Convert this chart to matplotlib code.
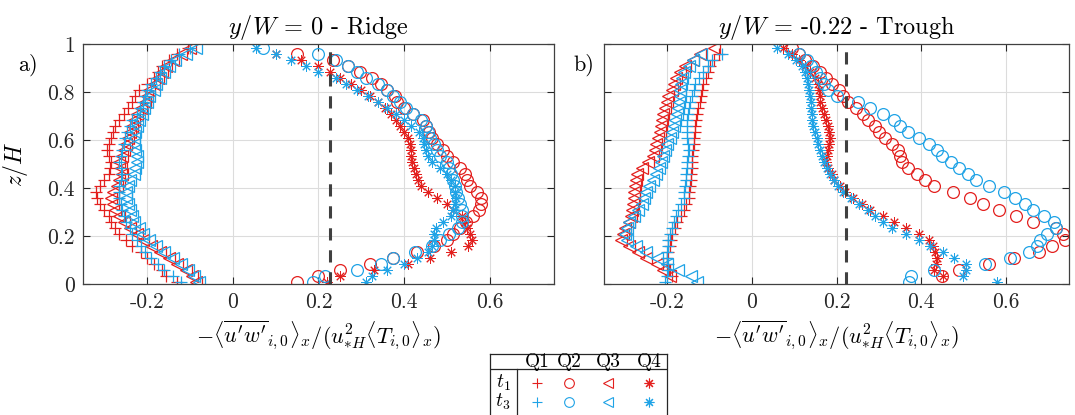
import numpy as np
import matplotlib
matplotlib.use("Agg")
import matplotlib.pyplot as plt

nan = np.nan
plt.rcParams['font.family'] = ['cmr10', 'DejaVu Serif']
plt.rcParams['mathtext.fontset'] = 'cm'
plt.rcParams['axes.unicode_minus'] = False
plt.rcParams['axes.formatter.use_mathtext'] = True

# measurement heights z/H (shared by all profiles)
z = [0.01, 0.035, 0.06, 0.085, 0.11, 0.135, 0.16, 0.185, 0.21, 0.235,
     0.26, 0.285, 0.31, 0.335, 0.36, 0.385, 0.41, 0.435, 0.46, 0.485,
     0.51, 0.535, 0.56, 0.585, 0.61, 0.635, 0.66, 0.685, 0.71, 0.735,
     0.76, 0.785, 0.81, 0.835, 0.86, 0.885, 0.91, 0.935, 0.96, 0.985]

# ---------------- panel a) y/W = 0 (Ridge) ----------------
a_q1_t1 = [-0.13, -0.155, -0.165, -0.185, -0.2, -0.215, -0.235, -0.25, -0.265, -0.275,
           -0.285, -0.29, -0.3, -0.31, -0.318, -0.32, -0.31, -0.3, -0.29, -0.287,
           -0.285, -0.29, -0.293, -0.29, -0.285, -0.28, -0.275, -0.265, -0.255, -0.245,
           -0.235, -0.228, -0.22, -0.2, -0.185, -0.175, -0.165, -0.15, -0.13, -0.105]
a_q1_t3 = [-0.12, -0.14, -0.16, -0.175, -0.19, -0.205, -0.215, -0.225, -0.235, -0.24,
           -0.25, -0.255, -0.26, -0.262, -0.265, -0.265, -0.265, -0.262, -0.26, -0.262,
           -0.265, -0.262, -0.258, -0.255, -0.252, -0.248, -0.24, -0.235, -0.225, -0.218,
           -0.21, -0.205, -0.2, -0.19, -0.18, -0.17, -0.16, -0.145, -0.125, -0.1]
a_q3_t1 = [-0.085, -0.095, -0.11, -0.13, -0.15, -0.17, -0.19, -0.21, -0.225, -0.24,
           -0.255, -0.265, -0.275, -0.28, -0.285, -0.28, -0.27, -0.265, -0.26, -0.262,
           -0.265, -0.26, -0.255, -0.25, -0.245, -0.24, -0.235, -0.23, -0.225, -0.215,
           -0.205, -0.2, -0.195, -0.185, -0.175, -0.165, -0.155, -0.14, -0.12, -0.1]
a_q3_t3 = [-0.08, -0.09, -0.105, -0.12, -0.14, -0.16, -0.18, -0.195, -0.21, -0.22,
           -0.23, -0.235, -0.24, -0.245, -0.25, -0.25, -0.245, -0.24, -0.232, -0.228,
           -0.225, -0.225, -0.228, -0.23, -0.23, -0.228, -0.225, -0.22, -0.212, -0.207,
           -0.2, -0.195, -0.185, -0.18, -0.17, -0.16, -0.15, -0.135, -0.11, -0.085]
a_q2_t1 = [0.15, 0.2, 0.25, 0.32, 0.375, 0.43, 0.47, 0.5, 0.515, 0.53,
           0.545, 0.56, 0.575, 0.58, 0.58, 0.57, 0.555, 0.548, 0.543, 0.53,
           0.515, 0.5, 0.49, 0.478, 0.465, 0.458, 0.45, 0.445, 0.42, 0.4,
           0.383, 0.378, 0.36, 0.345, 0.324, 0.297, 0.27, 0.235, 0.15, nan]
a_q2_t3 = [0.188, 0.215, 0.29, 0.345, 0.375, 0.425, 0.465, 0.485, 0.505, 0.525,
           0.535, 0.535, 0.535, 0.53, 0.525, 0.522, 0.518, 0.515, 0.51, 0.505,
           0.5, 0.485, 0.478, 0.47, 0.46, 0.455, 0.45, 0.44, 0.42, 0.405,
           0.39, 0.375, 0.36, 0.34, 0.31, 0.29, 0.27, 0.24, 0.2, 0.07]
a_q4_t1 = [0.22, 0.25, 0.33, 0.41, 0.46, 0.51, 0.55, 0.558, 0.555, 0.548,
           0.543, 0.535, 0.515, 0.5, 0.478, 0.455, 0.44, 0.432, 0.428, 0.422,
           0.418, 0.417, 0.415, 0.413, 0.41, 0.4, 0.39, 0.38, 0.37, 0.355,
           0.34, 0.32, 0.3, 0.275, 0.25, 0.228, 0.2, 0.16, 0.1, nan]
a_q4_t3 = [0.31, 0.325, 0.36, 0.4, 0.43, 0.455, 0.465, 0.47, 0.47, 0.475,
           0.49, 0.51, 0.515, 0.52, 0.522, 0.52, 0.518, 0.51, 0.5, 0.485,
           0.465, 0.455, 0.45, 0.447, 0.443, 0.435, 0.415, 0.4, 0.38, 0.36,
           0.34, 0.315, 0.29, 0.265, 0.24, 0.2, 0.17, 0.135, 0.1, 0.055]

# ---------------- panel b) y/W = -0.22 (Trough) ----------------
b_q1_t1 = [nan, -0.19, -0.195, -0.2, -0.2, -0.198, -0.195, -0.192, -0.19, -0.183,
           -0.178, -0.168, -0.16, -0.155, -0.15, -0.148, -0.146, -0.145, -0.144, -0.143,
           -0.142, -0.141, -0.14, -0.138, -0.137, -0.135, -0.134, -0.132, -0.131, -0.128,
           -0.124, -0.12, -0.118, -0.115, -0.11, -0.105, -0.1, -0.09, -0.077, nan]
b_q1_t3 = [-0.205, -0.2, -0.198, -0.198, -0.2, -0.2, -0.199, -0.198, -0.195, -0.19,
           -0.185, -0.18, -0.175, -0.168, -0.162, -0.16, -0.158, -0.157, -0.155, -0.154,
           -0.153, -0.152, -0.15, -0.152, -0.154, -0.154, -0.154, -0.154, -0.152, -0.15,
           -0.146, -0.142, -0.138, -0.135, -0.125, -0.115, -0.105, -0.095, -0.07, nan]
b_q3_t1 = [nan, -0.194, -0.21, -0.225, -0.25, -0.27, -0.29, -0.31, -0.305, -0.3,
           -0.29, -0.286, -0.284, -0.282, -0.28, -0.278, -0.277, -0.275, -0.273, -0.26,
           -0.245, -0.235, -0.23, -0.226, -0.222, -0.218, -0.215, -0.212, -0.21, -0.205,
           -0.202, -0.198, -0.19, -0.185, -0.18, -0.17, -0.158, -0.14, -0.123, -0.09]
b_q3_t3 = [-0.13, -0.145, -0.175, -0.2, -0.225, -0.25, -0.275, -0.295, -0.3, -0.295,
           -0.29, -0.28, -0.27, -0.26, -0.255, -0.25, -0.243, -0.235, -0.228, -0.22,
           -0.215, -0.21, -0.205, -0.2, -0.195, -0.19, -0.185, -0.182, -0.178, -0.175,
           -0.173, -0.17, -0.17, -0.168, -0.165, -0.16, -0.15, -0.14, -0.12, nan]
b_q2_t1 = [nan, 0.45, 0.49, 0.56, 0.62, 0.68, 0.71, 0.74, 0.735, 0.72,
           0.665, 0.625, 0.585, 0.547, 0.515, 0.475, 0.43, 0.41, 0.39, 0.37,
           0.355, 0.35, 0.345, 0.33, 0.315, 0.3, 0.29, 0.275, 0.262, 0.245,
           0.228, 0.215, 0.205, 0.19, 0.175, 0.16, 0.145, 0.125, 0.11, 0.095]
b_q2_t3 = [0.372, 0.375, 0.43, 0.55, 0.61, 0.655, 0.675, 0.682, 0.697, 0.72,
           0.715, 0.69, 0.665, 0.645, 0.622, 0.595, 0.56, 0.53, 0.51, 0.49,
           0.47, 0.45, 0.437, 0.418, 0.395, 0.37, 0.35, 0.335, 0.31, 0.28,
           0.25, 0.2, 0.18, 0.17, 0.16, 0.152, 0.14, 0.13, 0.11, nan]
b_q4_t1 = [nan, 0.452, 0.43, 0.435, 0.437, 0.433, 0.428, 0.418, 0.395, 0.365,
           0.335, 0.31, 0.28, 0.26, 0.24, 0.22, 0.207, 0.195, 0.19, 0.18,
           0.176, 0.178, 0.18, 0.183, 0.184, 0.182, 0.18, 0.175, 0.17, 0.166,
           0.162, 0.16, 0.158, 0.155, 0.148, 0.138, 0.125, 0.11, 0.095, 0.074]
b_q4_t3 = [0.58, 0.5, 0.505, 0.505, 0.478, 0.452, 0.42, 0.395, 0.365, 0.33,
           0.31, 0.29, 0.275, 0.252, 0.235, 0.215, 0.203, 0.195, 0.185, 0.177,
           0.17, 0.165, 0.162, 0.157, 0.153, 0.15, 0.145, 0.143, 0.142, 0.14,
           0.139, 0.137, 0.135, 0.133, 0.13, 0.125, 0.118, 0.105, 0.085, 0.06]

titles = [r"$y/W$ = 0 - Ridge", r"$y/W$ = -0.22 - Trough"]
panel_tags = ["a)", "b)"]
tag_x = [-0.138, -0.065]
dash_x = [0.228, 0.222]
xticks = [-0.2, 0, 0.2, 0.4, 0.6]
xticklabels = ["-0.2", "0", "0.2", "0.4", "0.6"]
yticks = [0, 0.2, 0.4, 0.6, 0.8, 1]
yticklabels = ["0", "0.2", "0.4", "0.6", "0.8", "1"]
quadrants = ["Q1", "Q2", "Q3", "Q4"]
times = [r"$t_1$", r"$t_3$"]

RED = '#E3201E'
BLUE = '#1FA3E6'
ASTER = (8, 2, 0)
markers = ['+', 'o', '<', ASTER]
msizes = [8, 8.5, 8, 7.5]
mews = [0.9, 0.9, 0.9, 0.7]

panels = [
    {'t1': [a_q1_t1, a_q2_t1, a_q3_t1, a_q4_t1], 't3': [a_q1_t3, a_q2_t3, a_q3_t3, a_q4_t3]},
    {'t1': [b_q1_t1, b_q2_t1, b_q3_t1, b_q4_t1], 't3': [b_q1_t3, b_q2_t3, b_q3_t3, b_q4_t3]},
]

fig = plt.figure(figsize=(10.75, 4.15), dpi=100)
ax_rects = [[0.0772, 0.3157, 0.4381, 0.5783], [0.5619, 0.3157, 0.4326, 0.5783]]
xlabel = r"$-\langle\overline{u'w'}_{i,0}\rangle_x/(u_{*H}^2\langle T_{i,0}\rangle_x)$"

for k, (rect, data) in enumerate(zip(ax_rects, panels)):
    ax = fig.add_axes(rect)
    ax.set_xlim(-0.35, 0.75)
    ax.set_ylim(0, 1)
    ax.grid(True, color='#dcdcdc', lw=0.8)
    ax.set_axisbelow(True)
    for key, col in (('t1', RED), ('t3', BLUE)):
        for q in range(4):
            ax.plot(data[key][q], z, linestyle='none', marker=markers[q],
                    markersize=msizes[q], markerfacecolor='none',
                    markeredgecolor=col, markeredgewidth=mews[q], color=col)
    ax.axvline(dash_x[k], color='#404040', lw=2.2, ls=(0, (4, 3.2)))
    ax.set_xticks(xticks)
    ax.set_xticklabels(xticklabels)
    ax.set_yticks(yticks)
    if k == 0:
        ax.set_yticklabels(yticklabels)
        ax.set_ylabel(r"$z/H$", fontsize=17)
        ax.yaxis.set_label_coords(-0.112, 0.5)
    else:
        ax.set_yticklabels([])
    ax.tick_params(direction='in', length=5, width=0.8, top=True, right=True,
                   labelsize=15.5, colors='#262626', pad=6)
    for sp in ax.spines.values():
        sp.set_color('#404040')
        sp.set_linewidth(0.9)
    ax.set_title(titles[k], fontsize=17.5, pad=7)
    ax.set_xlabel(xlabel, fontsize=16, va='center')
    ax.xaxis.set_label_coords(0.5, -0.215)
    ax.text(tag_x[k], 0.915, panel_tags[k], transform=ax.transAxes, fontsize=16,
            ha='left', va='center')

# legend table (pixel layout)
lax = fig.add_axes([490 / 1075, -0.02, 177 / 1075, (415 - 354) / 415 + 0.02])
lax.set_xlim(490, 667)
lax.set_ylim(423, 354)
lax.set_xticks([])
lax.set_yticks([])
for sp in lax.spines.values():
    sp.set_color('#262626')
    sp.set_linewidth(0.9)
lax.plot([490, 667], [369, 369], color='#262626', lw=0.9)
lax.plot([517, 517], [369, 423], color='#262626', lw=0.9)
col_x = [537, 569, 608, 649]
row_y = [383, 402]
for q in range(4):
    lax.text(col_x[q], 361.5, quadrants[q], ha='center', va='center', fontsize=14)
for r, (lab, col) in enumerate(zip(times, (RED, BLUE))):
    lax.text(503, row_y[r], lab, ha='center', va='center', fontsize=14)
    for q in range(4):
        lax.plot([col_x[q]], [row_y[r]], linestyle='none', marker=markers[q],
                 markersize=7, markerfacecolor='none', markeredgecolor=col,
                 markeredgewidth=0.8)

fig.savefig('out.png', dpi=100)
